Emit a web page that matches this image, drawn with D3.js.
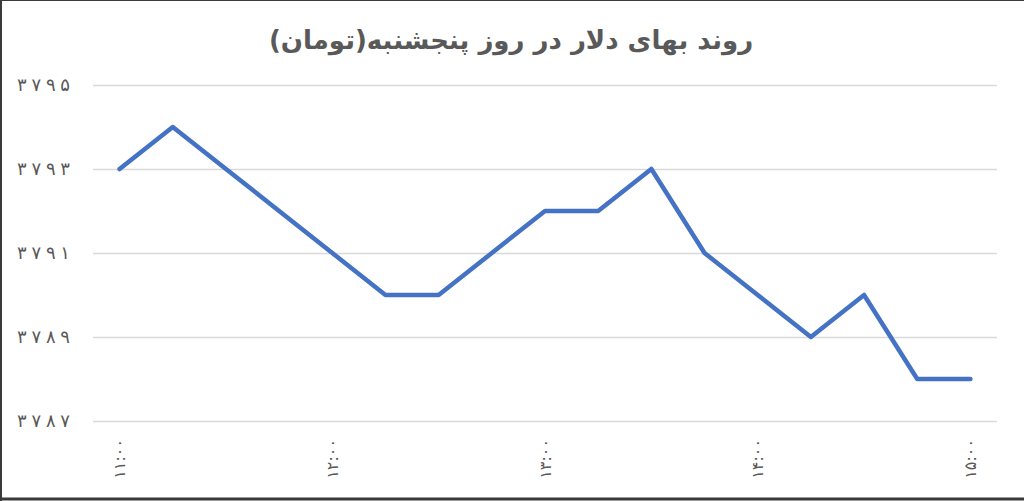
<!DOCTYPE html>
<html>
<head>
<meta charset="utf-8">
<script src="https://cdn.jsdelivr.net/npm/d3@7"></script>
<style>
  body { margin: 0; background: #fff; }
  svg { display: block; }
</style>
</head>
<body>
<svg id="chart" width="1024" height="501"></svg>
<script>
// داده ها
const title = "روند بهای دلار در روز پنجشنبه(تومان)";
const times = ["۱۱:۰۰", "۱۱:۱۵", "۱۱:۳۰", "۱۱:۴۵", "۱۲:۰۰", "۱۲:۱۵", "۱۲:۳۰", "۱۲:۴۵",
               "۱۳:۰۰", "۱۳:۱۵", "۱۳:۳۰", "۱۳:۴۵", "۱۴:۰۰", "۱۴:۱۵", "۱۴:۳۰", "۱۴:۴۵", "۱۵:۰۰"];
const prices = [3793, 3794, 3793, 3792, 3791, 3790, 3790, 3791,
                3792, 3792, 3793, 3791, 3790, 3789, 3790, 3788, 3788];
const yTicks = [3787, 3789, 3791, 3793, 3795];

const faDigits = "۰۱۲۳۴۵۶۷۸۹";
function toFa(n) {
    return String(n).replace(/\d/g, d => faDigits[+d]);
}

let svg = d3.select("#chart");
const W = 1024, H = 501;

let area = { left: 93, right: 997, top: 85, bottom: 421 };

// مقیاس ها
let scX = d3.scaleBand()
    .domain(times)
    .range([area.left, area.right]);

let scY = d3.scaleLinear()
    .domain([3787, 3795])
    .range([area.bottom, area.top]);

// قاب
svg.append("rect").attr("x", 0).attr("y", 0).attr("width", W).attr("height", H).attr("fill", "#fff");
svg.append("line").attr("x1", 1).attr("x2", 1).attr("y1", 0).attr("y2", H).attr("stroke", "#3a3a3a").attr("stroke-width", 2);
svg.append("line").attr("x1", 0).attr("x2", W).attr("y1", 0.5).attr("y2", 0.5).attr("stroke", "#3a3a3a").attr("stroke-width", 1);
svg.append("line").attr("x1", 0).attr("x2", W).attr("y1", 499).attr("y2", 499).attr("stroke", "#3a3a3a").attr("stroke-width", 3);

// عنوان
svg.append("text")
    .attr("x", 511)
    .attr("y", 49)
    .attr("text-anchor", "middle")
    .attr("direction", "rtl")
    .style("font-family", "'DejaVu Sans', sans-serif")
    .style("font-weight", "bold")
    .style("font-size", "26px")
    .style("fill", "#595959")
    .text(title);

// محور Y با خطوط شبکه
let axY = svg.append("g")
    .attr("transform", `translate(${area.left},0)`)
    .call(d3.axisLeft(scY)
        .tickValues(yTicks)
        .tickSize(-(area.right - area.left))
        .tickPadding(23)
        .tickFormat(toFa));
axY.select(".domain").remove();
axY.selectAll(".tick line").attr("stroke", "#d9d9d9").attr("stroke-width", 1.3);
axY.selectAll(".tick text")
    .attr("textLength", 53)
    .attr("lengthAdjust", "spacing")
    .style("font-family", "'DejaVu Sans', sans-serif")
    .style("font-size", "18px")
    .style("fill", "#595959");

// محور X
let axX = svg.append("g")
    .attr("transform", `translate(0,${area.bottom})`)
    .call(d3.axisBottom(scX)
        .tickValues(times.filter(t => t.endsWith("۰۰") && t[3] === "۰"))
        .tickSize(0)
        .tickFormat(t => t));
axX.select(".domain").remove();
axX.selectAll(".tick text")
    .attr("transform", "rotate(-90)")
    .attr("text-anchor", "end")
    .attr("x", -18)
    .attr("y", 0)
    .attr("dy", "0.35em")
    .attr("direction", "ltr")
    .style("font-family", "'DejaVu Sans', sans-serif")
    .style("font-size", "16px")
    .style("fill", "#595959");

// خط قیمت
let line = d3.line()
    .x((d, i) => scX(times[i]) + scX.bandwidth() / 2)
    .y(d => scY(d));

svg.append("path")
    .datum(prices)
    .attr("d", line)
    .attr("fill", "none")
    .attr("stroke", "#4472c4")
    .attr("stroke-width", 4.5)
    .attr("stroke-linejoin", "round")
    .attr("stroke-linecap", "round");
</script>
</body>
</html>
